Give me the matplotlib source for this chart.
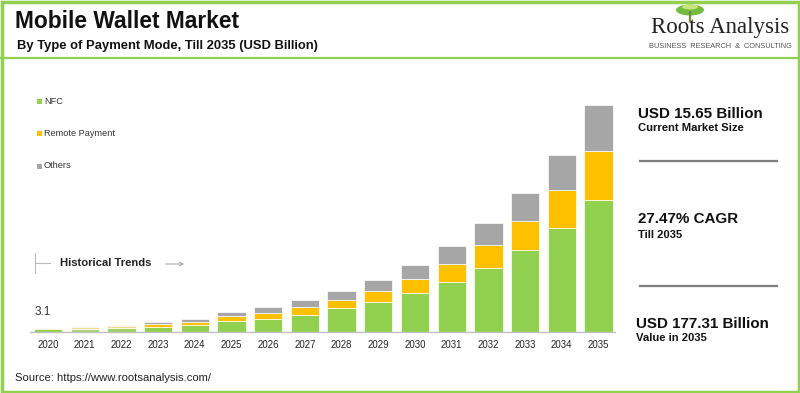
import matplotlib
matplotlib.use("Agg")
import matplotlib.pyplot as plt
from matplotlib.patches import Rectangle, Ellipse, FancyArrowPatch
from matplotlib.lines import Line2D

plt.rcParams['font.family'] = ['Liberation Sans', 'DejaVu Sans']

# data (USD Billion)
years = ['2020', '2021', '2022', '2023', '2024', '2025', '2026', '2027',
         '2028', '2029', '2030', '2031', '2032', '2033', '2034', '2035']
nfc = [2.6, 2.6, 3.1, 3.9, 5.6, 8.6, 10.4, 13.5, 18.7, 23.7, 30.5, 38.8, 50.0, 63.8, 81.5, 103.0]
remote = [0.3, 1.1, 1.3, 2.1, 2.5, 3.6, 4.7, 5.8, 6.5, 8.1, 10.9, 14.4, 17.7, 22.7, 29.4, 38.5]
others = [0.2, 0.7, 1.0, 2.0, 2.3, 3.45, 4.4, 5.5, 6.5, 9.1, 10.9, 13.8, 17.5, 22.2, 27.5, 35.81]
first_label = '3.1'

GREEN = '#92D050'
ORANGE = '#FFC000'
GRAY = '#A6A6A6'
faded = {1: ('#aad676', '#f2dc96', '#ddd6c2'), 2: ('#9fd262', '#f3d98a', '#d8d2c0')}

W, H = 800, 393


def px(x, y):
    return x / W, 1 - y / H


fig = plt.figure(figsize=(8, 3.93), dpi=100)

# chart area
l, b = px(30, 332)
r, t = px(615, 90)
ax = fig.add_axes([l, b, r - l, t - b])

c_nfc, c_rem, c_oth = [], [], []
for i in range(len(years)):
    if i in faded:
        g, o, s = faded[i]
    else:
        g, o, s = GREEN, ORANGE, GRAY
    c_nfc.append(g)
    c_rem.append(o)
    c_oth.append(s)

xs = list(range(len(years)))
bottom2 = [a + c for a, c in zip(nfc, remote)]
ax.bar(xs, nfc, width=0.77, color=c_nfc, edgecolor='white', linewidth=0.5)
ax.bar(xs, remote, width=0.77, bottom=nfc, color=c_rem, edgecolor='white', linewidth=0.5)
ax.bar(xs, others, width=0.77, bottom=bottom2, color=c_oth, edgecolor='white', linewidth=0.5)

ax.set_xlim(-0.49, 15.45)
ax.set_ylim(0, 189)
ax.set_xticks(xs)
ax.set_xticklabels(years, fontsize=6.9, color='#222222')
ax.tick_params(axis='x', length=0, pad=6)
ax.set_yticks([])
for sp in ['top', 'right', 'left']:
    ax.spines[sp].set_visible(False)
ax.spines['bottom'].set_color('#c0c0c0')
ax.spines['bottom'].set_linewidth(1)

ax.text(0 - 0.38, 16, first_label, fontsize=8.5, color='#333333', ha='left', va='center')

# legend
legend_items = [('NFC', GREEN, 101), ('Remote Payment', ORANGE, 133), ('Others', GRAY, 166)]
for name, col, yy in legend_items:
    x0, y0 = px(37, yy + 2.5)
    fig.patches.append(Rectangle((x0, y0), 5 / W, 5 / H, transform=fig.transFigure,
                                 facecolor=col, edgecolor='none'))
    fig.text(*px(44, yy), name, fontsize=6.6, color='#333333', va='center', ha='left')

# historical trends marker
fig.lines.append(Line2D([35 / W, 35 / W], [1 - 253 / H, 1 - 273 / H], transform=fig.transFigure,
                        color='#bbbbbb', lw=0.8))
fig.lines.append(Line2D([35 / W, 50 / W], [1 - 263 / H, 1 - 263 / H], transform=fig.transFigure,
                        color='#bbbbbb', lw=0.8))
fig.text(*px(60, 263), 'Historical Trends', fontsize=8.1, fontweight='bold', color='#222222',
         va='center', ha='left')
fig.patches.append(FancyArrowPatch(px(163, 264), px(187, 264), transform=fig.transFigure,
                                   arrowstyle='->', mutation_scale=6, color='#aaaaaa', lw=0.8))

# header
fig.text(*px(15, 22), 'Mobile Wallet Market', fontsize=16.4, fontweight='bold', color='#111111',
         va='center', ha='left')
fig.text(*px(17, 46), 'By Type of Payment Mode, Till 2035 (USD Billion)', fontsize=9.4,
         fontweight='bold', color='#111111', va='center', ha='left')

# logo
fig.lines.append(Line2D([690 / W, 690 / W], [1 - 12 / H, 1 - 21 / H], transform=fig.transFigure,
                        color='#6b8f3a', lw=1.6))
fig.patches.append(Ellipse(px(690, 10), 28 / W, 11 / H, transform=fig.transFigure,
                           facecolor='#74bb3e', edgecolor='none'))
fig.patches.append(Ellipse(px(690, 7), 16 / W, 5 / H, transform=fig.transFigure,
                           facecolor='#c9e57c', edgecolor='none'))
fig.text(*px(720, 28), 'Roots Analysis', fontsize=16.5, family=['Liberation Serif', 'DejaVu Serif'],
         color='#222222', va='center', ha='center')
fig.text(*px(720, 47), 'BUSINESS  RESEARCH  &  CONSULTING', fontsize=5.3, color='#555555',
         va='center', ha='center')

# right panel
fig.text(*px(638, 114), 'USD 15.65 Billion', fontsize=10.9, fontweight='bold', color='#111111',
         va='center', ha='left')
fig.text(*px(638, 128), 'Current Market Size', fontsize=8.1, fontweight='bold', color='#111111',
         va='center', ha='left')
fig.lines.append(Line2D([640 / W, 777 / W], [1 - 160.5 / H, 1 - 160.5 / H], transform=fig.transFigure,
                        color='#7f7f7f', lw=1.6))
fig.text(*px(638, 219), '27.47% CAGR', fontsize=10.9, fontweight='bold', color='#111111',
         va='center', ha='left')
fig.text(*px(638, 235), 'Till 2035', fontsize=8.1, fontweight='bold', color='#111111',
         va='center', ha='left')
fig.lines.append(Line2D([640 / W, 777 / W], [1 - 285.5 / H, 1 - 285.5 / H], transform=fig.transFigure,
                        color='#7f7f7f', lw=1.6))
fig.text(*px(636, 324), 'USD 177.31 Billion', fontsize=10.9, fontweight='bold', color='#111111',
         va='center', ha='left')
fig.text(*px(636, 338), 'Value in 2035', fontsize=8.1, fontweight='bold', color='#111111',
         va='center', ha='left')

# source
fig.text(*px(15, 378), 'Source: https://www.rootsanalysis.com/', fontsize=8.1, color='#222222',
         va='center', ha='left')

# green frame and header separator
fig.patches.append(Rectangle((1.5 / W, 1.5 / H), 1 - 3 / W, 1 - 3 / H, transform=fig.transFigure,
                             facecolor='none', edgecolor=GREEN, lw=2.5))
fig.lines.append(Line2D([0, 1], [1 - 58 / H, 1 - 58 / H], transform=fig.transFigure,
                        color=GREEN, lw=1.6))

fig.savefig('out.png', dpi=100)
